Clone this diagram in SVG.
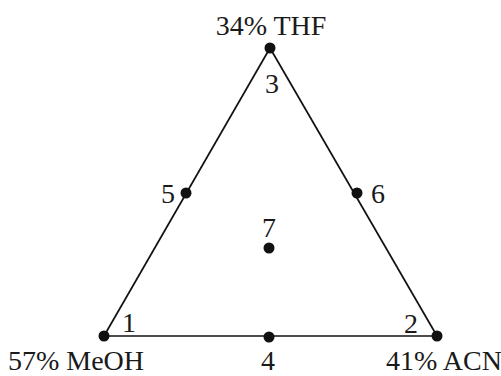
<svg xmlns="http://www.w3.org/2000/svg" width="501" height="376" viewBox="0 0 501 376">
<style>
.t{font-family:"Liberation Serif","Times New Roman",serif;font-size:28px;fill:#1a1a1a;text-anchor:middle}
.e{stroke:#111;stroke-width:1.7;fill:none}
.d{fill:#111}
</style>
<rect width="501" height="376" fill="#fff"/>
<g id="connectors">
<line class="e" x1="270" y1="48" x2="104" y2="336"/>
<line class="e" x1="270" y1="48" x2="437" y2="336"/>
<line class="e" x1="104" y1="336" x2="437" y2="336"/>
</g>
<g id="n3"><circle class="d" cx="270" cy="48" r="5.5"/><text class="t" x="272" y="93">3</text><text class="t" x="271" y="35">34% THF</text></g>
<g id="n1"><circle class="d" cx="104" cy="336" r="5.5"/><text class="t" x="129" y="332">1</text><text class="t" x="76" y="370">57% MeOH</text></g>
<g id="n2"><circle class="d" cx="437" cy="336" r="5.5"/><text class="t" x="411" y="333">2</text><text class="t" x="444" y="370">41% ACN</text></g>
<g id="n4"><circle class="d" cx="269" cy="337" r="5.5"/><text class="t" x="268" y="370">4</text></g>
<g id="n5"><circle class="d" cx="186" cy="193" r="5.5"/><text class="t" x="168" y="203">5</text></g>
<g id="n6"><circle class="d" cx="357" cy="193" r="5.5"/><text class="t" x="378" y="203">6</text></g>
<g id="n7"><circle class="d" cx="269" cy="248" r="5.5"/><text class="t" x="269" y="237">7</text></g>
</svg>
